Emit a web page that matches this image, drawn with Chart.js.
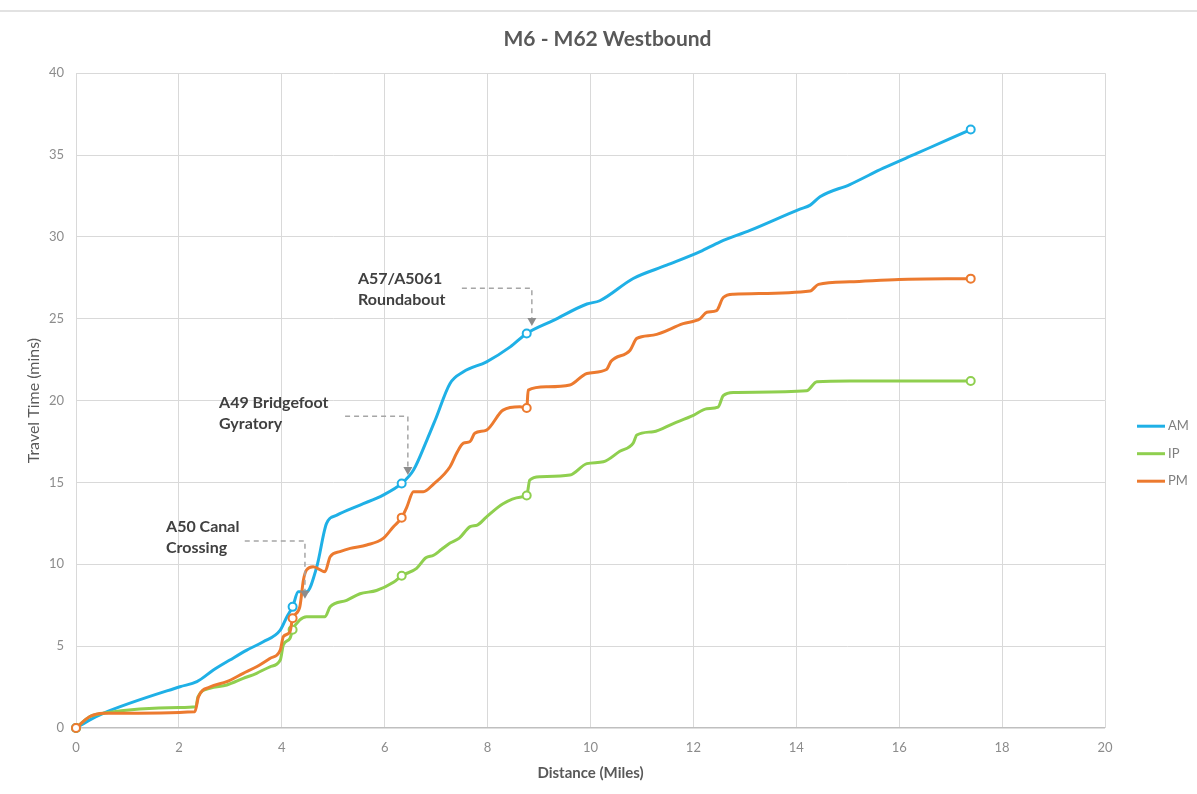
<!DOCTYPE html>
<html>
<head>
<meta charset="utf-8">
<script src="https://cdn.jsdelivr.net/npm/chart.js@4.4.1/dist/chart.umd.min.js"></script>
<style>
    html, body { margin: 0; padding: 0; background: #fff; }
    #topRule { position: absolute; left: 0; top: 10px; width: 1197px; height: 2px; background: #e2e2e2; }
    #wrap { position: absolute; left: 0; top: 0; width: 1197px; height: 794px; }
</style>
</head>
<body>
<div id="topRule"></div>
<div id="wrap"><canvas id="journeyChart" width="1197" height="794"></canvas></div>
<script>
// Cumulative travel time along the route
const amMiles = [0, 0.27, 0.53, 2.02, 2.35, 2.67, 2.99, 3.32, 3.64, 3.97, 4.1, 4.21, 4.32, 4.48, 4.68, 4.87, 5.07, 5.52, 5.97, 6.33, 6.56, 6.82, 6.98, 7.27, 7.53, 7.98, 8.44, 8.76, 9.28, 9.93, 10.18, 10.83, 11.48, 12.13, 12.52, 13.1, 14.07, 14.27, 14.46, 15.04, 15.69, 16.34, 16.99, 17.39];
const amMins = [0, 0.5, 0.9, 2.52, 2.83, 3.54, 4.15, 4.76, 5.27, 5.98, 6.8, 7.4, 8.32, 8.32, 9.85, 12.5, 13.0, 13.62, 14.23, 14.94, 15.76, 17.59, 18.8, 21.05, 21.76, 22.37, 23.28, 24.1, 24.9, 25.9, 26.1, 27.46, 28.27, 29.1, 29.7, 30.4, 31.7, 31.94, 32.45, 33.2, 34.2, 35.1, 36.0, 36.56];

const ipMiles = [0, 0.27, 0.53, 2.0, 2.33, 2.37, 2.6, 2.93, 3.25, 3.51, 3.77, 3.97, 4.03, 4.16, 4.21, 4.35, 4.48, 4.84, 4.94, 5.26, 5.52, 5.84, 6.17, 6.33, 6.62, 6.8, 6.95, 7.1, 7.27, 7.45, 7.66, 7.8, 7.98, 8.3, 8.63, 8.76, 8.82, 9.02, 9.6, 9.93, 10.25, 10.57, 10.83, 10.9, 11.22, 11.61, 12.0, 12.26, 12.48, 12.58, 12.78, 14.2, 14.4, 15.04, 17.39];
const ipMins = [0, 0.7, 0.9, 1.25, 1.3, 1.9, 2.42, 2.63, 3.03, 3.34, 3.74, 4.15, 5.07, 5.48, 6.0, 6.6, 6.8, 6.8, 7.4, 7.8, 8.2, 8.4, 8.9, 9.3, 9.75, 10.4, 10.55, 10.9, 11.3, 11.6, 12.3, 12.4, 12.9, 13.7, 14.1, 14.2, 15.15, 15.35, 15.45, 16.15, 16.26, 16.9, 17.4, 17.9, 18.1, 18.6, 19.1, 19.5, 19.6, 20.3, 20.5, 20.6, 21.15, 21.2, 21.2];

const pmMiles = [0, 0.27, 0.53, 2.31, 2.38, 2.6, 2.93, 3.25, 3.51, 3.77, 3.97, 4.03, 4.16, 4.21, 4.35, 4.42, 4.48, 4.61, 4.84, 4.94, 5.13, 5.33, 5.65, 5.97, 6.17, 6.33, 6.43, 6.56, 6.75, 6.95, 7.27, 7.4, 7.53, 7.66, 7.75, 7.98, 8.3, 8.63, 8.76, 8.79, 9.15, 9.6, 9.93, 10.31, 10.4, 10.77, 10.9, 11.22, 11.8, 12.13, 12.26, 12.45, 12.58, 12.78, 14.27, 14.43, 15.04, 16.0, 17.39];
const pmMins = [0, 0.7, 0.9, 1.0, 1.9, 2.5, 2.83, 3.34, 3.74, 4.25, 4.76, 5.58, 5.88, 6.7, 7.4, 9.04, 9.65, 9.85, 9.55, 10.46, 10.77, 10.97, 11.18, 11.58, 12.3, 12.85, 13.5, 14.43, 14.43, 14.9, 15.96, 16.8, 17.4, 17.5, 18.0, 18.2, 19.42, 19.62, 19.55, 20.64, 20.84, 20.95, 21.66, 21.9, 22.4, 23.08, 23.8, 24.0, 24.7, 25.0, 25.4, 25.5, 26.3, 26.5, 26.7, 27.1, 27.26, 27.4, 27.45];

// Timing points shown with hollow markers
const junctionMiles = [0, 4.21, 6.33, 8.76, 17.39];

const xTicks = { min: 0, max: 20, step: 2 };
const yTicks = { min: 0, max: 40, step: 5 };

// Callouts: text lines, text anchor, elbow of the dashed leader and arrow tip (data units)
const callouts = [
    { lines: ['A50 Canal', 'Crossing'], x: 1.75, y: 12.27, lineY: 11.42, fromX: 3.28, toX: 4.45, tipY: 7.9 },
    { lines: ['A49 Bridgefoot', 'Gyratory'], x: 2.78, y: 19.85, lineY: 19.05, fromX: 5.23, toX: 6.45, tipY: 15.45 },
    { lines: ['A57/A5061', 'Roundabout'], x: 5.48, y: 27.42, lineY: 26.87, fromX: 7.5, toX: 8.86, tipY: 24.55 }
];

const FONT = 'Lato, "Open Sans", sans-serif';

function pairs(xs, ys) {
    return xs.map((x, i) => ({ x: x, y: ys[i] }));
}

function markerRadius(ctx) {
    const p = ctx.raw;
    return p && junctionMiles.includes(p.x) ? 4 : 0;
}

function series(label, xs, ys, color, order) {
    return {
        label: label,
        data: pairs(xs, ys),
        order: order,
        clip: false,
        borderColor: color,
        backgroundColor: '#ffffff',
        borderWidth: 3,
        pointRadius: markerRadius,
        pointHoverRadius: markerRadius,
        pointBorderWidth: 2,
        pointBorderColor: color,
        pointBackgroundColor: '#ffffff',
        cubicInterpolationMode: 'monotone',
        fill: false
    };
}

const calloutPlugin = {
    id: 'callouts',
    afterDatasetsDraw(chart) {
        const { ctx, scales: { x, y } } = chart;
        ctx.save();
        callouts.forEach(c => {
            ctx.font = 'bold 16px ' + FONT;
            ctx.fillStyle = '#404040';
            ctx.textAlign = 'left';
            ctx.textBaseline = 'middle';
            c.lines.forEach((t, i) => {
                ctx.fillText(t, x.getPixelForValue(c.x), y.getPixelForValue(c.y) + i * 21);
            });

            const x0 = x.getPixelForValue(c.fromX);
            const x1 = x.getPixelForValue(c.toX);
            const yl = y.getPixelForValue(c.lineY);
            const yt = y.getPixelForValue(c.tipY);
            ctx.strokeStyle = '#a6a6a6';
            ctx.lineWidth = 1.5;
            ctx.setLineDash([5, 4]);
            ctx.beginPath();
            ctx.moveTo(x0, yl);
            ctx.lineTo(x1, yl);
            ctx.lineTo(x1, yt - 7);
            ctx.stroke();
            ctx.setLineDash([]);
            ctx.fillStyle = '#8c8c8c';
            ctx.beginPath();
            ctx.moveTo(x1 - 4.5, yt - 8);
            ctx.lineTo(x1 + 4.5, yt - 8);
            ctx.lineTo(x1, yt);
            ctx.closePath();
            ctx.fill();
        });
        ctx.restore();
    }
};

// Legend drawn to the right of the plot, in dataset order
const sideLegend = {
    id: 'sideLegend',
    afterDraw(chart) {
        const { ctx, chartArea } = chart;
        ctx.save();
        ctx.font = '13px ' + FONT;
        ctx.textAlign = 'left';
        ctx.textBaseline = 'middle';
        chart.data.datasets.forEach((ds, i) => {
            const yy = chartArea.top + 353 + i * 27.5;
            const xx = chartArea.right + 32;
            ctx.strokeStyle = ds.borderColor;
            ctx.lineWidth = 3;
            ctx.beginPath();
            ctx.moveTo(xx, yy);
            ctx.lineTo(xx + 28, yy);
            ctx.stroke();
            ctx.fillStyle = '#7f7f7f';
            ctx.fillText(ds.label, xx + 31, yy);
        });
        ctx.restore();
    }
};

const chartCtx = document.getElementById('journeyChart').getContext('2d');
const journeyChart = new Chart(chartCtx, {
    type: 'line',
    data: {
        datasets: [
            series('AM', amMiles, amMins, '#1fb0e6', 2),
            series('IP', ipMiles, ipMins, '#8fcf4f', 1),
            series('PM', pmMiles, pmMins, '#ec7a2f', 0)
        ]
    },
    options: {
        responsive: false,
        animation: false,
        layout: { padding: { left: 18, right: 0, top: 0, bottom: 0 } },
        plugins: {
            title: {
                display: true,
                text: 'M6 - M62 Westbound',
                color: '#595959',
                font: { family: FONT, size: 21, weight: 'bold' },
                padding: { top: 27, bottom: 21 }
            },
            legend: { display: false },
            tooltip: { enabled: false }
        },
        scales: {
            x: {
                type: 'linear',
                min: xTicks.min,
                max: xTicks.max,
                afterFit: s => { s.height = 66; },
                ticks: { stepSize: xTicks.step, padding: 12, color: '#8c8c8c', font: { family: FONT, size: 13 } },
                grid: { color: '#d9d9d9', drawTicks: false },
                border: { display: false },
                title: {
                    display: true,
                    text: 'Distance (Miles)',
                    color: '#595959',
                    font: { family: FONT, size: 15, weight: 'bold' },
                    padding: { top: 0, bottom: 12 }
                }
            },
            y: {
                min: yTicks.min,
                max: yTicks.max,
                afterFit: s => { s.width = 58; },
                ticks: { stepSize: yTicks.step, padding: 12, color: '#8c8c8c', font: { family: FONT, size: 13 } },
                grid: {
                    color: c => (c.tick && c.tick.value === 0 ? '#bfbfbf' : '#d9d9d9'),
                    lineWidth: c => (c.tick && c.tick.value === 0 ? 1.5 : 1),
                    drawTicks: false
                },
                border: { display: false },
                title: {
                    display: true,
                    text: 'Travel Time (mins)',
                    color: '#595959',
                    font: { family: FONT, size: 16 },
                    padding: { top: 6, bottom: 0 }
                }
            },
            // empty right-hand axis that only keeps room for the legend
            legendRoom: {
                position: 'right',
                min: yTicks.min,
                max: yTicks.max,
                afterFit: s => { s.width = 92; },
                ticks: { display: false },
                grid: { display: false },
                border: { display: false }
            }
        }
    },
    plugins: [calloutPlugin, sideLegend]
});
</script>
</body>
</html>
